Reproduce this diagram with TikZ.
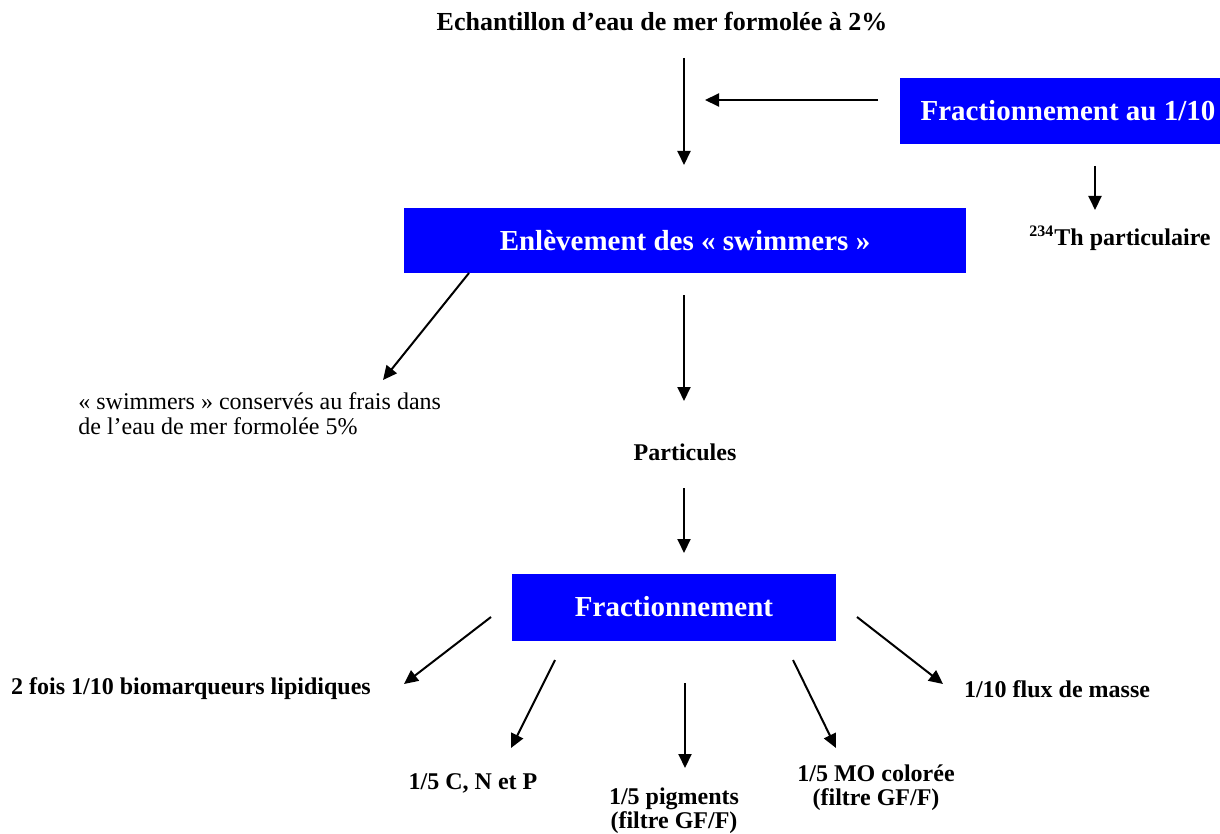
\documentclass[tikz,border=0pt]{standalone}
\usepackage{fontspec}
\setmainfont{Liberation Serif}
\usetikzlibrary{arrows.meta}
\definecolor{boxblue}{RGB}{0,0,255}
\tikzset{
  lbl/.style={font=\bfseries\fontsize{12}{12}\selectfont, inner sep=0, align=center},
  boxnode/.style={fill=boxblue, text=white, font=\bfseries\fontsize{14.5}{16}\selectfont, inner sep=0},
  arr/.style={line width=1pt, -{Triangle[length=7pt,width=6.5pt]}}
}
\begin{document}
\begin{tikzpicture}[x=0.5pt,y=-0.5pt]
\useasboundingbox (0,0) rectangle (1220,834);
% nodes
\node[lbl, font=\bfseries\fontsize{13}{13}\selectfont] (title) at (662,22) {Echantillon d’eau de mer formolée à 2\%};
\node[boxnode, minimum width=160pt, minimum height=33pt] (frac10) at (1060,111) {\hspace{8pt}Fractionnement au 1/10};
\node[lbl] (th) at (1120,238) {\textsuperscript{234}Th particulaire};
\node[boxnode, minimum width=281pt, minimum height=32.5pt] (enl) at (685,240.5) {Enlèvement des « swimmers »};
\node[font=\fontsize{12}{12.5}\selectfont, inner sep=0, align=left, anchor=west] (swim) at (78,414) {« swimmers » conservés au frais dans\\de l’eau de mer formolée 5\%};
\node[lbl] (part) at (685,452) {Particules};
\node[boxnode, minimum width=162pt, minimum height=33.5pt] (frac) at (674,607) {Fractionnement};
\node[lbl] (bio) at (191,689) {2 fois 1/10 biomarqueurs lipidiques};
\node[lbl] (cnp) at (473,783) {1/5 C, N et P};
\node[lbl] (pig) at (674,811) {1/5 pigments\\[0pt](filtre GF/F)};
\node[lbl] (mo) at (876,788) {1/5 MO colorée\\[0pt](filtre GF/F)};
\node[lbl] (flux) at (1057,689) {1/10 flux de masse};
% coordinates for connector ends
\coordinate (a1s) at (684,58);  \coordinate (a1e) at (684,165);
\coordinate (a2s) at (878,100); \coordinate (a2e) at (705,100);
\coordinate (a3s) at (1095,166); \coordinate (a3e) at (1095,210);
\coordinate (a4s) at (469,273); \coordinate (a4e) at (383,380);
\coordinate (a5s) at (684,295); \coordinate (a5e) at (684,401);
\coordinate (a6s) at (684,488); \coordinate (a6e) at (684,553);
\coordinate (b1s) at (491,617); \coordinate (b1e) at (404,684);
\coordinate (b2s) at (555,660); \coordinate (b2e) at (511,748);
\coordinate (b3s) at (685,683); \coordinate (b3e) at (685,768);
\coordinate (b4s) at (793,660); \coordinate (b4e) at (836,748);
\coordinate (b5s) at (857,617); \coordinate (b5e) at (943,684);
% connectors
\draw[arr] (a1s) -- (a1e);
\draw[arr] (a2s) -- (a2e);
\draw[arr] (a3s) -- (a3e);
\draw[arr] (a4s) -- (a4e);
\draw[arr] (a5s) -- (a5e);
\draw[arr] (a6s) -- (a6e);
\draw[arr] (b1s) -- (b1e);
\draw[arr] (b2s) -- (b2e);
\draw[arr] (b3s) -- (b3e);
\draw[arr] (b4s) -- (b4e);
\draw[arr] (b5s) -- (b5e);
\end{tikzpicture}
\end{document}
